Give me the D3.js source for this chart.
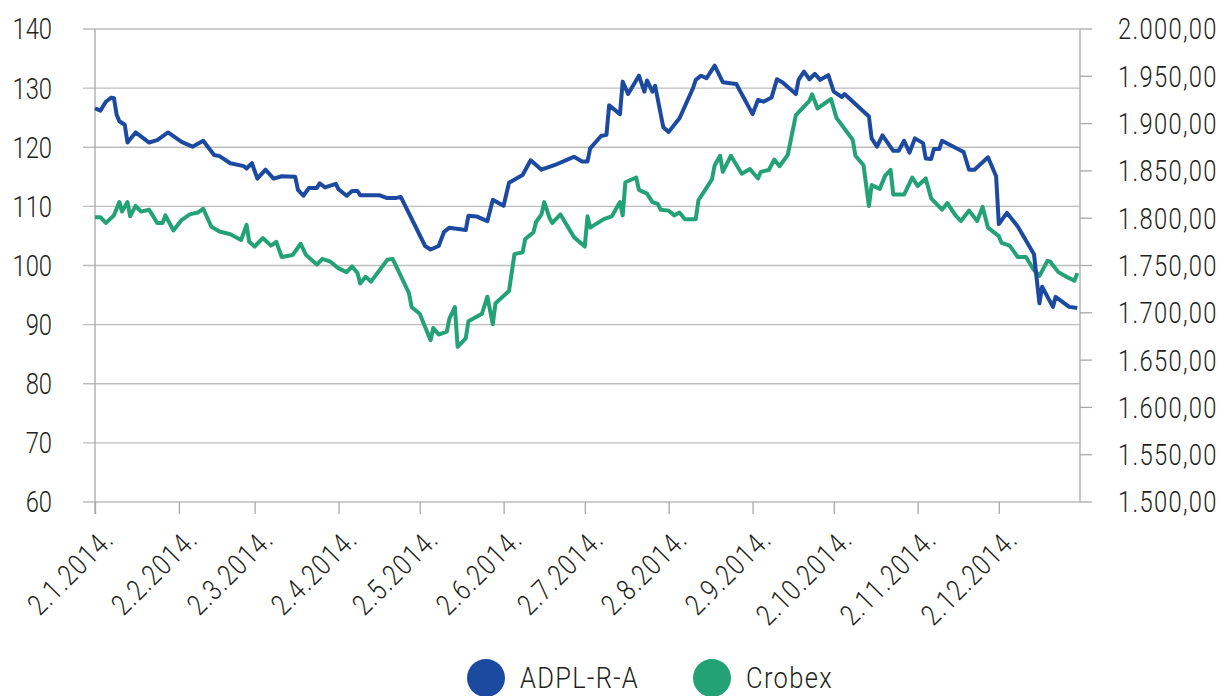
<!DOCTYPE html>
<html>
<head>
<meta charset="utf-8">
<script src="https://cdn.jsdelivr.net/npm/d3@7"></script>
<style>
  body { margin: 0; background: #fff; }
  svg text { font-family: Roboto, "Noto Sans", sans-serif; font-weight: 300; fill: #231f20; }
</style>
</head>
<body>
<div id="chart"></div>
<script>

// ADPL-R-A share price (left axis)
var adplData = [
  ["2014-01-02",126.6],["2014-01-04",126.2],["2014-01-06",127.7],["2014-01-08",128.4],["2014-01-09",128.3],
  ["2014-01-10",125.5],["2014-01-11",124.4],["2014-01-13",123.8],["2014-01-14",120.8],["2014-01-17",122.5],
  ["2014-01-22",120.8],["2014-01-25",121.2],["2014-01-29",122.5],["2014-02-03",120.9],["2014-02-07",120.1],
  ["2014-02-11",121.1],["2014-02-15",118.7],["2014-02-17",118.5],["2014-02-21",117.3],["2014-02-26",116.8],
  ["2014-02-27",116.4],["2014-03-01",117.3],["2014-03-03",114.7],["2014-03-06",116.2],["2014-03-09",114.7],
  ["2014-03-12",115.1],["2014-03-17",115.0],["2014-03-18",112.8],["2014-03-20",111.8],["2014-03-22",113.1],
  ["2014-03-25",113.1],["2014-03-26",113.9],["2014-03-28",113.2],["2014-04-01",113.8],["2014-04-02",112.9],
  ["2014-04-05",111.8],["2014-04-07",112.6],["2014-04-09",112.6],["2014-04-10",111.9],["2014-04-17",111.9],
  ["2014-04-20",111.4],["2014-04-23",111.4],["2014-04-25",111.6],["2014-05-04",103.3],["2014-05-06",102.7],
  ["2014-05-09",103.3],["2014-05-11",105.7],["2014-05-13",106.4],["2014-05-19",106.0],["2014-05-20",108.4],
  ["2014-05-23",108.3],["2014-05-27",107.5],["2014-05-29",111.1],["2014-06-02",110.1],["2014-06-04",114.0],
  ["2014-06-09",115.3],["2014-06-12",117.8],["2014-06-16",116.2],["2014-06-21",117.0],["2014-06-26",118.0],
  ["2014-06-28",118.4],["2014-07-01",117.6],["2014-07-03",117.6],["2014-07-04",119.8],["2014-07-08",121.9],
  ["2014-07-10",122.1],["2014-07-11",127.1],["2014-07-15",125.6],["2014-07-16",131.1],["2014-07-18",129.0],
  ["2014-07-22",132.1],["2014-07-24",129.4],["2014-07-25",131.3],["2014-07-27",129.4],["2014-07-28",130.4],
  ["2014-07-31",123.4],["2014-08-02",122.6],["2014-08-06",124.9],["2014-08-11",130.0],["2014-08-12",131.4],
  ["2014-08-14",132.1],["2014-08-16",131.7],["2014-08-19",133.8],["2014-08-22",131.0],["2014-08-27",130.7],
  ["2014-09-02",125.6],["2014-09-04",128.0],["2014-09-06",127.7],["2014-09-09",128.4],["2014-09-11",131.5],
  ["2014-09-13",131.0],["2014-09-18",129.0],["2014-09-19",131.4],["2014-09-21",132.8],["2014-09-23",131.5],
  ["2014-09-25",132.4],["2014-09-27",131.4],["2014-09-30",132.2],["2014-10-02",129.4],["2014-10-05",128.5],
  ["2014-10-06",129.0],["2014-10-15",125.2],["2014-10-16",121.5],["2014-10-18",120.1],["2014-10-20",122.0],
  ["2014-10-24",119.4],["2014-10-26",119.4],["2014-10-28",121.1],["2014-10-30",119.1],["2014-11-01",121.5],
  ["2014-11-04",120.7],["2014-11-05",118.1],["2014-11-07",118.0],["2014-11-08",119.7],["2014-11-10",119.7],
  ["2014-11-11",121.1],["2014-11-19",119.2],["2014-11-21",116.2],["2014-11-23",116.2],["2014-11-28",118.3],
  ["2014-12-01",115.1],["2014-12-02",107.0],["2014-12-05",108.9],["2014-12-09",106.6],["2014-12-15",101.9],
  ["2014-12-17",93.6],["2014-12-18",96.4],["2014-12-22",93.0],["2014-12-23",94.7],["2014-12-28",93.0],
  ["2014-12-31",92.8]
];

// Crobex index (right axis)
var crobexData = [
  ["2014-01-02",1801],["2014-01-04",1801],["2014-01-06",1795],["2014-01-09",1803],["2014-01-11",1817],
  ["2014-01-12",1807],["2014-01-14",1817],["2014-01-15",1802],["2014-01-17",1813],["2014-01-19",1807],
  ["2014-01-22",1809],["2014-01-25",1795],["2014-01-27",1795],["2014-01-28",1803],["2014-01-31",1787],
  ["2014-02-03",1798],["2014-02-06",1804],["2014-02-09",1806],["2014-02-11",1810],["2014-02-14",1791],
  ["2014-02-17",1786],["2014-02-21",1783],["2014-02-25",1777],["2014-02-27",1793],["2014-02-28",1775],
  ["2014-03-02",1770],["2014-03-05",1779],["2014-03-08",1771],["2014-03-10",1775],["2014-03-12",1759],
  ["2014-03-16",1761],["2014-03-19",1773],["2014-03-21",1761],["2014-03-25",1751],["2014-03-27",1757],
  ["2014-03-30",1754],["2014-04-02",1747],["2014-04-05",1743],["2014-04-07",1749],["2014-04-09",1742],
  ["2014-04-10",1731],["2014-04-12",1738],["2014-04-14",1733],["2014-04-20",1756],["2014-04-22",1757],
  ["2014-04-28",1721],["2014-04-29",1706],["2014-05-02",1699],["2014-05-06",1671],["2014-05-07",1684],
  ["2014-05-09",1677],["2014-05-12",1680],["2014-05-13",1694],["2014-05-15",1706],["2014-05-16",1664],
  ["2014-05-19",1673],["2014-05-20",1691],["2014-05-25",1699],["2014-05-27",1717],["2014-05-29",1688],
  ["2014-05-30",1710],["2014-06-04",1723],["2014-06-06",1762],["2014-06-09",1764],["2014-06-10",1778],
  ["2014-06-13",1785],["2014-06-14",1796],["2014-06-16",1804],["2014-06-17",1817],["2014-06-19",1800],
  ["2014-06-20",1795],["2014-06-23",1804],["2014-06-28",1780],["2014-07-02",1770],["2014-07-03",1802],
  ["2014-07-04",1790],["2014-07-09",1799],["2014-07-12",1802],["2014-07-15",1817],["2014-07-16",1803],
  ["2014-07-17",1838],["2014-07-21",1843],["2014-07-22",1830],["2014-07-25",1826],["2014-07-27",1817],
  ["2014-07-29",1815],["2014-07-30",1809],["2014-08-02",1808],["2014-08-04",1803],["2014-08-06",1806],
  ["2014-08-08",1799],["2014-08-12",1799],["2014-08-13",1819],["2014-08-18",1841],["2014-08-19",1856],
  ["2014-08-21",1866],["2014-08-22",1849],["2014-08-25",1866],["2014-08-29",1847],["2014-09-01",1852],
  ["2014-09-04",1842],["2014-09-05",1849],["2014-09-08",1851],["2014-09-10",1862],["2014-09-12",1855],
  ["2014-09-15",1867],["2014-09-18",1909],["2014-09-23",1924],["2014-09-24",1931],["2014-09-26",1916],
  ["2014-10-01",1926],["2014-10-03",1906],["2014-10-09",1883],["2014-10-10",1866],["2014-10-13",1856],
  ["2014-10-15",1813],["2014-10-16",1835],["2014-10-19",1831],["2014-10-21",1845],["2014-10-23",1851],
  ["2014-10-24",1825],["2014-10-28",1825],["2014-10-31",1843],["2014-11-02",1834],["2014-11-05",1842],
  ["2014-11-07",1821],["2014-11-11",1809],["2014-11-13",1816],["2014-11-16",1803],["2014-11-18",1797],
  ["2014-11-21",1808],["2014-11-24",1797],["2014-11-26",1812],["2014-11-28",1790],["2014-12-02",1781],
  ["2014-12-03",1774],["2014-12-06",1771],["2014-12-09",1759],["2014-12-12",1759],["2014-12-15",1745],
  ["2014-12-17",1739],["2014-12-20",1755],["2014-12-21",1754],["2014-12-24",1743],["2014-12-27",1738],
  ["2014-12-30",1734],["2014-12-31",1742]
];

var leftTicks = [60, 70, 80, 90, 100, 110, 120, 130, 140];
var rightTicks = [1500, 1550, 1600, 1650, 1700, 1750, 1800, 1850, 1900, 1950, 2000];
var monthTicks = ["2014-01-02","2014-02-02","2014-03-02","2014-04-02","2014-05-02","2014-06-02",
                  "2014-07-02","2014-08-02","2014-09-02","2014-10-02","2014-11-02","2014-12-02"];
var seriesNames = ["ADPL-R-A", "Crobex"];
var seriesColors = ["#1b4aa0", "#22a275"];

var parseDate = d3.timeParse("%Y-%m-%d");

var margin = {top: 29, right: 144, bottom: 194, left: 95},
    width = 1224 - margin.left - margin.right,
    height = 696 - margin.top - margin.bottom;

// the original typeface is a narrow DIN; squeeze Roboto horizontally
var squeeze = " scale(0.82,1)";
var fontSize = "29px";

var x = d3.scaleTime()
    .domain([parseDate("2014-01-02"), parseDate("2015-01-01")])
    .range([0, width]);
var yLeft = d3.scaleLinear().domain([60, 140]).range([height, 0]);
var yRight = d3.scaleLinear().domain([1500, 2000]).range([height, 0]);

var hr = d3.formatLocale({decimal: ",", thousands: ".", grouping: [3], currency: ["", ""]});
var fmtRight = hr.format(",.2f");

var svg = d3.select("#chart").append("svg")
    .attr("width", 1224)
    .attr("height", 696);

var g = svg.append("g")
    .attr("transform", "translate(" + margin.left + "," + margin.top + ")");

// horizontal grid lines (they also act as left ticks)
g.selectAll(".grid")
    .data(leftTicks)
    .enter().append("line")
    .attr("x1", -12)
    .attr("x2", width)
    .attr("y1", function(d) { return yLeft(d); })
    .attr("y2", function(d) { return yLeft(d); })
    .style("stroke", "#bdbdbd")
    .style("stroke-width", 1.3);

// left axis labels
g.selectAll(".ylab")
    .data(leftTicks)
    .enter().append("text")
    .attr("transform", function(d) { return "translate(-43," + yLeft(d) + ")" + squeeze; })
    .attr("dy", "0.36em")
    .style("text-anchor", "end")
    .style("font-size", fontSize)
    .text(function(d) { return d; });

// left axis line
g.append("line")
    .attr("x1", 0).attr("x2", 0)
    .attr("y1", 0).attr("y2", height + 12)
    .style("stroke", "#a8a8a8")
    .style("stroke-width", 1.3);

// right axis
g.append("line")
    .attr("x1", width).attr("x2", width)
    .attr("y1", 0).attr("y2", height)
    .style("stroke", "#a8a8a8")
    .style("stroke-width", 1.3);

g.selectAll(".rtick")
    .data(rightTicks)
    .enter().append("line")
    .attr("x1", width)
    .attr("x2", width + 12)
    .attr("y1", function(d) { return yRight(d); })
    .attr("y2", function(d) { return yRight(d); })
    .style("stroke", "#a8a8a8")
    .style("stroke-width", 1.3);

g.selectAll(".rlab")
    .data(rightTicks)
    .enter().append("text")
    .attr("transform", function(d) { return "translate(" + (width + 38) + "," + yRight(d) + ")" + squeeze; })
    .attr("dy", "0.36em")
    .style("text-anchor", "start")
    .style("font-size", fontSize)
    .style("letter-spacing", "1.6px")
    .text(function(d) { return fmtRight(d); });

// x axis
var xAxis = d3.axisBottom(x)
    .tickValues(monthTicks.map(parseDate))
    .tickSize(12)
    .tickFormat(function(d) { return d.getDate() + "." + (d.getMonth() + 1) + "." + d.getFullYear() + "."; });

var xg = g.append("g")
    .attr("transform", "translate(0," + height + ")")
    .call(xAxis);

xg.select(".domain").remove();
xg.selectAll(".tick line")
    .style("stroke", "#a8a8a8")
    .style("stroke-width", 1.3);
xg.selectAll(".tick text")
    .attr("x", null)
    .attr("y", null)
    .attr("dy", null)
    .attr("transform", "translate(20,39) rotate(-45)" + squeeze)
    .style("text-anchor", "end")
    .style("font-size", fontSize)
    .style("font-family", "Roboto, sans-serif")
    .style("font-weight", 300)
    .style("letter-spacing", "1.5px")
    .style("fill", "#231f20");

// lines
var adplLine = d3.line()
    .x(function(d) { return x(parseDate(d[0])); })
    .y(function(d) { return yLeft(d[1]); });

var crobexLine = d3.line()
    .x(function(d) { return x(parseDate(d[0])); })
    .y(function(d) { return yRight(d[1]); });

g.append("path")
    .datum(crobexData)
    .attr("d", crobexLine)
    .style("fill", "none")
    .style("stroke", seriesColors[1])
    .style("stroke-width", 4)
    .style("stroke-linejoin", "round");

g.append("path")
    .datum(adplData)
    .attr("d", adplLine)
    .style("fill", "none")
    .style("stroke", seriesColors[0])
    .style("stroke-width", 4)
    .style("stroke-linejoin", "round");

// legend
var legendX = [486, 712];
var legend = svg.selectAll(".legend")
    .data(seriesNames)
    .enter().append("g")
    .attr("transform", function(d, i) { return "translate(" + legendX[i] + ",678)"; });

legend.append("circle")
    .attr("r", 19)
    .style("fill", function(d, i) { return seriesColors[i]; });

legend.append("text")
    .attr("transform", "translate(34,0) scale(0.88,1)")
    .attr("dy", "0.36em")
    .style("font-size", fontSize)
    .style("letter-spacing", "1.5px")
    .text(function(d) { return d; });

</script>
</body>
</html>
